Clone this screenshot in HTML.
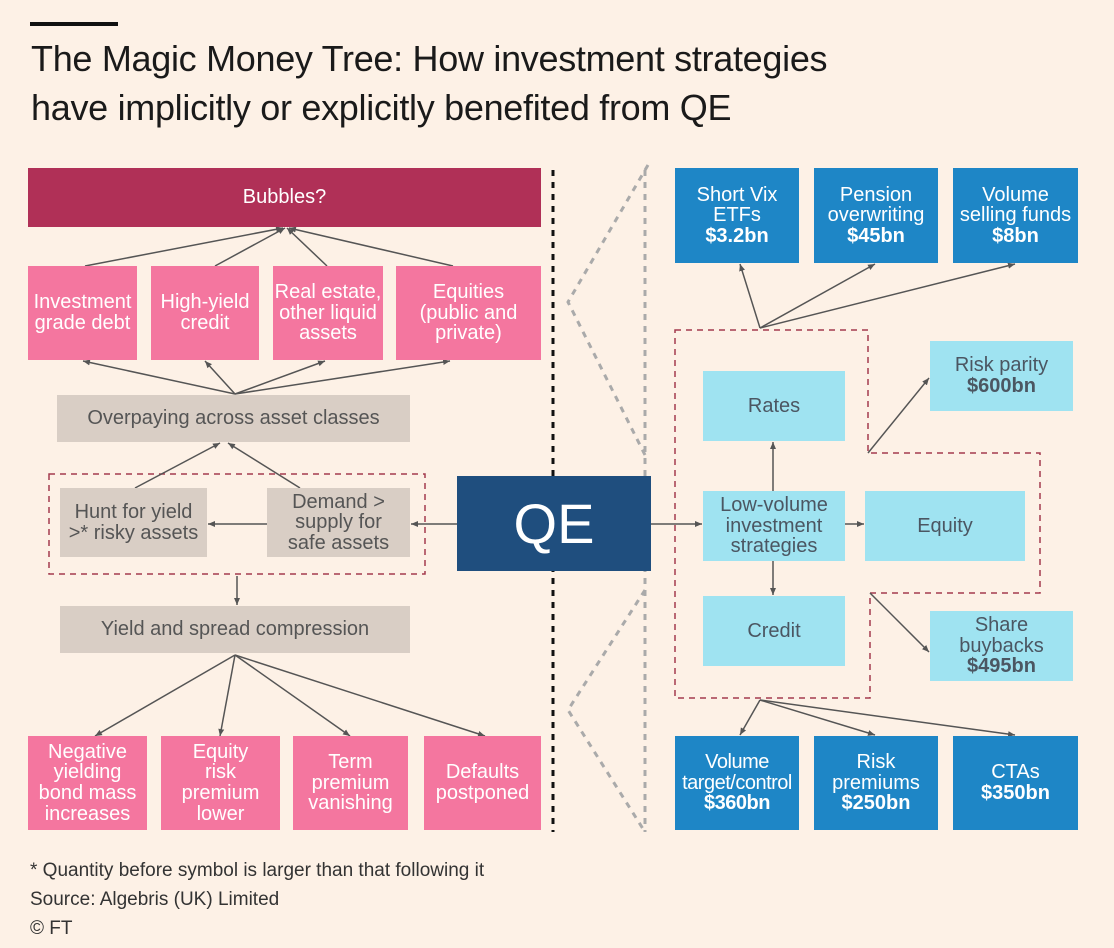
<!DOCTYPE html>
<html><head><meta charset="utf-8"><style>
body{margin:0;width:1114px;height:948px;background:#fdf1e6;font-family:"Liberation Sans",sans-serif;position:relative;overflow:hidden}
.b{position:absolute;display:flex;align-items:center;justify-content:center;text-align:center;box-sizing:border-box;line-height:1.03}
.b>div{width:100%}
.p{background:#f4769f;color:#fff;font-size:20px}
.g{background:#d9cec5;color:#555;font-size:20px}
.d{background:#1e86c6;color:#fff;font-size:20px}
.c{background:#9fe3f1;color:#4b5662;font-size:20px}
.t{position:absolute;color:#222}
</style></head><body>
<div style="position:absolute;left:30px;top:22px;width:88px;height:4px;background:#111"></div>
<div class="t" style="left:31px;top:34px;font-size:36px;line-height:49px;color:#1a1a1a;letter-spacing:-0.3px">The Magic Money Tree: How investment strategies<br>have implicitly or explicitly benefited from QE</div>
<svg style="position:absolute;left:0;top:0" width="1114" height="948">
<defs><marker id="a" markerWidth="8" markerHeight="8" refX="7" refY="4" orient="auto" markerUnits="userSpaceOnUse"><path d="M0,1 L7,4 L0,7z" fill="#555"/></marker></defs>
<line x1="553" y1="170" x2="553" y2="832" stroke="#111" stroke-width="3" stroke-dasharray="6,6"/>
<g stroke="#aaa" stroke-width="3" stroke-dasharray="6,6" fill="none">
<line x1="645" y1="170" x2="645" y2="832"/>
<polyline points="648,165 568,302 645,455"/>
<polyline points="645,590 568,710 645,832"/>
</g>
<g stroke="#a33a4e" stroke-width="1.5" stroke-dasharray="6,5" fill="none">
<rect x="49" y="474" width="376" height="100"/>
<polygon points="675,330 868,330 868,453 1040,453 1040,593 870,593 870,698 675,698"/>
</g>
<g stroke="#555" stroke-width="1.5" marker-end="url(#a)">
<line x1="85" y1="266" x2="283" y2="228"/><line x1="215" y1="266" x2="285" y2="228"/><line x1="327" y1="266" x2="287" y2="228"/><line x1="453" y1="266" x2="289" y2="228"/>
<line x1="235" y1="394" x2="83" y2="361"/><line x1="235" y1="394" x2="205" y2="361"/><line x1="235" y1="394" x2="325" y2="361"/><line x1="235" y1="394" x2="450" y2="361"/>
<line x1="135" y1="488" x2="220" y2="443"/><line x1="300" y1="488" x2="228" y2="443"/>
<line x1="457" y1="524" x2="411" y2="524"/><line x1="267" y1="524" x2="208" y2="524"/>
<line x1="237" y1="576" x2="237" y2="605"/>
<line x1="235" y1="655" x2="95" y2="736"/><line x1="235" y1="655" x2="220" y2="736"/><line x1="235" y1="655" x2="350" y2="736"/><line x1="235" y1="655" x2="485" y2="736"/>
<line x1="651" y1="524" x2="702" y2="524"/><line x1="845" y1="524" x2="864" y2="524"/>
<line x1="773" y1="491" x2="773" y2="442"/><line x1="773" y1="561" x2="773" y2="595"/>
<line x1="868" y1="453" x2="929" y2="378"/><line x1="870" y1="593" x2="929" y2="652"/>
<line x1="760" y1="328" x2="740" y2="264"/><line x1="760" y1="328" x2="875" y2="264"/><line x1="760" y1="328" x2="1015" y2="264"/>
<line x1="760" y1="700" x2="740" y2="735"/><line x1="760" y1="700" x2="875" y2="735"/><line x1="760" y1="700" x2="1015" y2="735"/>
</g>
</svg>
<div class="b" style="left:28px;top:168px;width:513px;height:59px;background:#b03057;color:#fff;font-size:20px"><div>Bubbles?</div></div>
<div class="b p" style="left:28px;top:266px;width:109px;height:94px"><div>Investment<br>grade debt</div></div>
<div class="b p" style="left:151px;top:266px;width:108px;height:94px"><div>High-yield<br>credit</div></div>
<div class="b p" style="left:273px;top:266px;width:110px;height:94px"><div>Real estate,<br>other liquid<br>assets</div></div>
<div class="b p" style="left:396px;top:266px;width:145px;height:94px"><div>Equities<br>(public and<br>private)</div></div>
<div class="b g" style="left:57px;top:395px;width:353px;height:47px"><div>Overpaying across asset classes</div></div>
<div class="b g" style="left:60px;top:488px;width:147px;height:69px"><div>Hunt for yield<br>&gt;* risky assets</div></div>
<div class="b g" style="left:267px;top:488px;width:143px;height:69px"><div>Demand &gt;<br>supply for<br>safe assets</div></div>
<div class="b g" style="left:60px;top:606px;width:350px;height:47px"><div>Yield and spread compression</div></div>
<div class="b p" style="left:28px;top:736px;width:119px;height:94px"><div>Negative<br>yielding<br>bond mass<br>increases</div></div>
<div class="b p" style="left:161px;top:736px;width:119px;height:94px"><div>Equity<br>risk<br>premium<br>lower</div></div>
<div class="b p" style="left:293px;top:736px;width:115px;height:94px"><div>Term<br>premium<br>vanishing</div></div>
<div class="b p" style="left:424px;top:736px;width:117px;height:94px"><div>Defaults<br>postponed</div></div>
<div class="b" style="left:457px;top:476px;width:194px;height:95px;background:#1f4e7e;color:#fff;font-size:56px"><div>QE</div></div>
<div class="b d" style="left:675px;top:168px;width:124px;height:95px"><div>Short Vix<br>ETFs<br><b>$3.2bn</b></div></div>
<div class="b d" style="left:814px;top:168px;width:124px;height:95px"><div>Pension<br>overwriting<br><b>$45bn</b></div></div>
<div class="b d" style="left:953px;top:168px;width:125px;height:95px"><div>Volume<br>selling funds<br><b>$8bn</b></div></div>
<div class="b d" style="left:675px;top:736px;width:124px;height:94px;letter-spacing:-0.5px"><div>Volume<br>target/control<br><b>$360bn</b></div></div>
<div class="b d" style="left:814px;top:736px;width:124px;height:94px"><div>Risk<br>premiums<br><b>$250bn</b></div></div>
<div class="b d" style="left:953px;top:736px;width:125px;height:94px"><div>CTAs<br><b>$350bn</b></div></div>
<div class="b c" style="left:703px;top:371px;width:142px;height:70px"><div>Rates</div></div>
<div class="b c" style="left:703px;top:491px;width:142px;height:70px"><div>Low-volume<br>investment<br>strategies</div></div>
<div class="b c" style="left:703px;top:596px;width:142px;height:70px"><div>Credit</div></div>
<div class="b c" style="left:865px;top:491px;width:160px;height:70px"><div>Equity</div></div>
<div class="b c" style="left:930px;top:341px;width:143px;height:70px"><div>Risk parity<br><b>$600bn</b></div></div>
<div class="b c" style="left:930px;top:611px;width:143px;height:70px"><div>Share<br>buybacks<br><b>$495bn</b></div></div>
<div class="t" style="left:30px;top:856px;font-size:19px;line-height:29px;color:#333">* Quantity before symbol is larger than that following it<br>Source: Algebris (UK) Limited<br>© FT</div>
</body></html>
